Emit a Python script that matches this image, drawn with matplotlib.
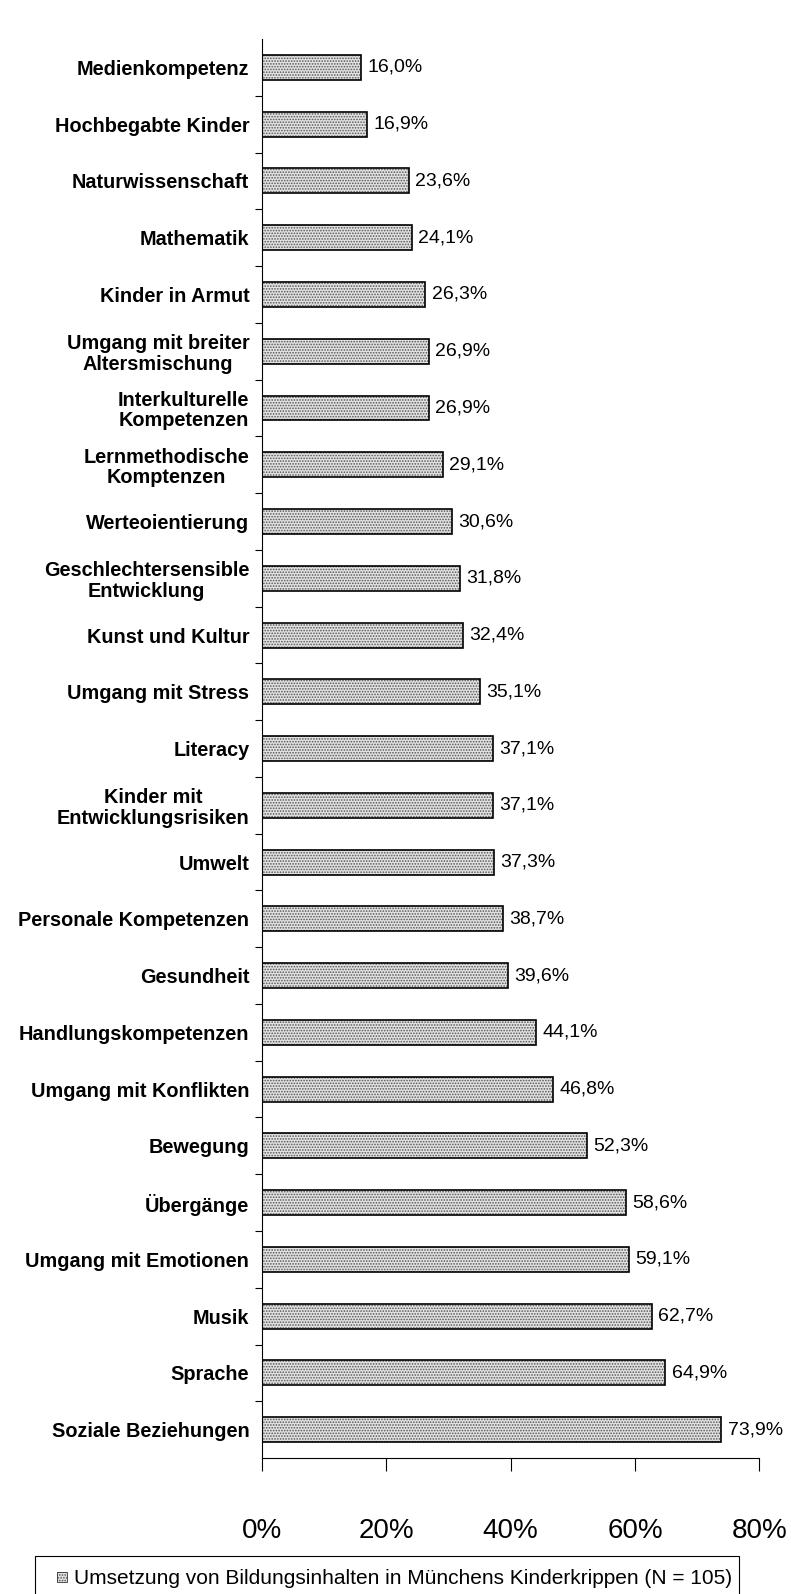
import matplotlib
matplotlib.use("Agg")

import matplotlib.pyplot as plt
from matplotlib.patches import Rectangle

plt.rcParams['font.family'] = ['Liberation Sans', 'DejaVu Sans']
plt.rcParams['hatch.linewidth'] = 0.8

# Bildungsinhalte, von oben nach unten
labels = ["Medienkompetenz", "Hochbegabte Kinder", "Naturwissenschaft", "Mathematik",
          "Kinder in Armut", "Umgang mit breiter\nAltersmischung", "Interkulturelle\nKompetenzen",
          "Lernmethodische\nKomptenzen", "Werteoientierung", "Geschlechtersensible\nEntwicklung",
          "Kunst und Kultur", "Umgang mit Stress", "Literacy", "Kinder mit\nEntwicklungsrisiken",
          "Umwelt", "Personale Kompetenzen", "Gesundheit", "Handlungskompetenzen",
          "Umgang mit Konflikten", "Bewegung", "Übergänge", "Umgang mit Emotionen",
          "Musik", "Sprache", "Soziale Beziehungen"]
values = [16.0, 16.9, 23.6, 24.1, 26.3, 26.9, 26.9, 29.1, 30.6, 31.8, 32.4, 35.1, 37.1,
          37.1, 37.3, 38.7, 39.6, 44.1, 46.8, 52.3, 58.6, 59.1, 62.7, 64.9, 73.9]
xticks = [0, 20, 40, 60, 80]
legend_label = "Umsetzung von Bildungsinhalten in Münchens Kinderkrippen (N = 105)"

FILL = '#e2e2e2'
DOTS = '#555555'
HATCH = '......'

fig = plt.figure(figsize=(7.91, 15.94), dpi=100)
ax = fig.add_axes([0.331, 0.0853, 0.629, 0.8902])

pos = list(range(len(labels)))
# dotted fill, then black outline
ax.barh(pos, values, height=0.44, color=FILL, edgecolor=DOTS, hatch=HATCH, linewidth=0)
ax.barh(pos, values, height=0.44, fill=False, edgecolor='black', linewidth=1.2)

for p, v in zip(pos, values):
    ax.text(v + 1.0, p, f"{v:.1f}%".replace('.', ','), va='center', ha='left', fontsize=14)

ax.set_ylim(len(labels) - 0.5, -0.5)
ax.set_xlim(0, 80)
ax.set_yticks(pos)
ax.set_yticklabels(labels, fontweight='bold', fontsize=14.3, multialignment='center',
                   linespacing=1.1)
ax.tick_params(axis='y', length=0, pad=9)
ax.set_yticks([p + 0.5 for p in pos[:-1]], minor=True)
ax.tick_params(axis='y', which='minor', length=5, width=0.8, direction='out')

ax.set_xticks(xticks)
ax.set_xticklabels([f"{t}%" for t in xticks], fontsize=20)
ax.tick_params(axis='x', length=9, width=0.8, pad=34)

for s in ['top', 'right']:
    ax.spines[s].set_visible(False)
for s in ['left', 'bottom']:
    ax.spines[s].set_linewidth(0.8)

# legend box at the bottom, cut off by the figure edge like in the original
W, H = 791, 1594
fig.patches.append(Rectangle((35 / W, -0.01), (739 - 35) / W, 0.01 + 1 - 1556 / H,
                             transform=fig.transFigure, fill=False, edgecolor='black',
                             linewidth=0.8))
fig.patches.append(Rectangle((57 / W, 1 - 1582 / H), 10 / W, 10 / H, transform=fig.transFigure,
                             facecolor=FILL, edgecolor=DOTS, hatch=HATCH, linewidth=0))
fig.patches.append(Rectangle((57 / W, 1 - 1582 / H), 10 / W, 10 / H, transform=fig.transFigure,
                             fill=False, edgecolor='#333333', linewidth=0.6))
fig.text(74 / W, 1 - 1584 / H, legend_label, fontsize=15, ha='left', va='baseline')

fig.savefig("out.png", dpi=100)
